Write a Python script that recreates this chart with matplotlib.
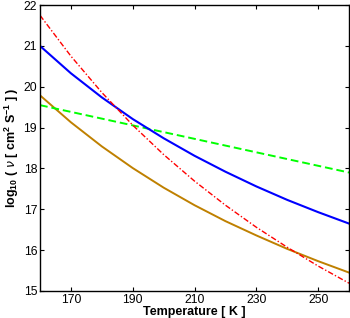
import matplotlib
matplotlib.use("Agg")
import matplotlib.pyplot as plt

plt.rcParams['font.family'] = ['Liberation Sans', 'DejaVu Sans']
plt.rcParams['mathtext.fontset'] = 'custom'
plt.rcParams['mathtext.rm'] = 'Liberation Sans'
plt.rcParams['mathtext.bf'] = 'Liberation Sans:bold'

temperature = [160, 170, 180, 190, 200, 210, 220, 230, 240, 250, 260]
red_dashdot = [21.75, 20.75, 19.86, 19.06, 18.34, 17.69, 17.10, 16.56, 16.07, 15.61, 15.19]
blue_solid = [21.00, 20.33, 19.74, 19.21, 18.74, 18.31, 17.92, 17.56, 17.23, 16.93, 16.65]
green_dashed = [19.55, 19.385, 19.22, 19.055, 18.89, 18.725, 18.56, 18.395, 18.23, 18.065, 17.90]
brown_solid = [19.79, 19.13, 18.54, 18.01, 17.53, 17.10, 16.71, 16.36, 16.03, 15.73, 15.45]

xticks = [170, 190, 210, 230, 250]
yticks = [15, 16, 17, 18, 19, 20, 21, 22]

fig = plt.figure(figsize=(3.5, 3.18), dpi=100)
ax = fig.add_axes([0.1143, 0.085, 0.883, 0.899])

ax.plot(temperature, brown_solid, color=(0.75, 0.5, 0.0), lw=1.4)
ax.plot(temperature, green_dashed, color=(0.0, 1.0, 0.0), lw=1.4, ls=(0, (4, 2)))
ax.plot(temperature, blue_solid, color=(0.0, 0.0, 1.0), lw=1.5)
ax.plot(temperature, red_dashdot, color=(1.0, 0.0, 0.0), lw=1.0, ls=(0, (4, 1.5, 1, 1.5)))

ax.set_xlim(160, 260)
ax.set_ylim(15, 22)
ax.set_xticks(xticks)
ax.set_yticks(yticks)
ax.tick_params(direction='in', top=True, right=True, length=3, width=0.8,
               labelsize=8.7, pad=2)
for s in ax.spines.values():
    s.set_linewidth(1.0)

ax.set_xlabel('Temperature [ K ]', fontsize=9, fontweight='bold', labelpad=0)
ax.set_ylabel(r'log$_{\mathbf{10}}$ ( $\nu$ [ cm$^{\mathbf{2}}$ S$^{\mathbf{-1}}$ ] )',
              fontsize=9, fontweight='bold', labelpad=2)

fig.savefig('out.png', dpi=100)
